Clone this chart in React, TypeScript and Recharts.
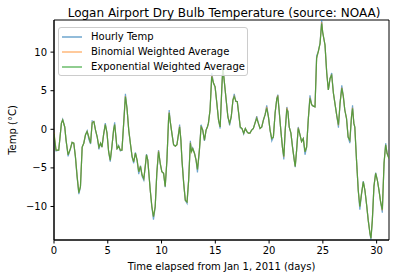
import { LineChart, Line, XAxis, YAxis, Legend, ReferenceArea, Customized } from "recharts"

// days since Jan 1, 2011
const days = [
  0.0, 0.19, 0.44, 0.69, 0.81, 1.0, 1.12, 1.31, 1.53, 1.68, 1.84, 1.99, 2.15, 2.31, 2.46, 2.62, 2.77, 2.93, 3.08, 3.24,
  3.4, 3.55, 3.71, 3.86, 4.02, 4.18, 4.33, 4.46, 4.61, 4.77, 4.93, 5.08, 5.23, 5.39, 5.54, 5.64, 5.76, 5.86, 6.01, 6.17,
  6.32, 6.48, 6.64, 6.79, 6.95, 7.1, 7.26, 7.41, 7.57, 7.73, 7.88, 8.04, 8.19, 8.35, 8.5, 8.6, 8.72, 8.82, 8.95, 9.1,
  9.25, 9.41, 9.56, 9.72, 9.88, 10.03, 10.19, 10.34, 10.5, 10.65, 10.71, 10.81, 10.96, 11.12, 11.28, 11.43, 11.59, 11.68, 11.8, 11.9,
  12.06, 12.21, 12.37, 12.52, 12.68, 12.78, 12.9, 13.06, 13.21, 13.34, 13.52, 13.68, 13.83, 13.99, 14.14, 14.27, 14.36, 14.51, 14.67, 14.83,
  14.98, 15.14, 15.3, 15.45, 15.61, 15.7, 15.82, 16.01, 16.17, 16.33, 16.48, 16.64, 16.76, 16.92, 17.04, 17.17, 17.32, 17.48, 17.64, 17.79,
  17.94, 18.07, 18.22, 18.38, 18.54, 18.69, 18.85, 19.0, 19.16, 19.32, 19.47, 19.63, 19.78, 19.94, 20.09, 20.25, 20.4, 20.56, 20.72, 20.81,
  20.93, 21.09, 21.24, 21.37, 21.5, 21.65, 21.75, 21.87, 22.03, 22.18, 22.34, 22.43, 22.56, 22.71, 22.87, 23.02, 23.18, 23.34, 23.49, 23.64,
  23.8, 23.96, 24.11, 24.27, 24.42, 24.58, 24.74, 24.89, 24.98, 25.11, 25.2, 25.36, 25.51, 25.67, 25.82, 25.98, 26.14, 26.29, 26.45, 26.6,
  26.76, 26.9, 27.04, 27.2, 27.35, 27.51, 27.66, 27.76, 27.88, 27.97, 28.13, 28.29, 28.44, 28.6, 28.76, 28.91, 29.07, 29.22, 29.38, 29.47,
  29.6, 29.75, 29.91, 30.07, 30.22, 30.37, 30.53, 30.69, 30.84, 30.97, 31.15,
]

const hourlyTemp = [
  -0.9, -2.8, -2.7, 0.8, 1.3, 0.3, -1.4, -3.5, -2.5, -1.7, -1.8, -3.6, -6.2, -8.4, -7.5, -2.3, -1.8, -0.7, -0.2, -1.3,
  -1.9, 1.1, 1.0, -0.1, -1.0, -2.6, -1.8, -2.3, -0.7, 0.8, -0.5, -2.9, -4.2, -2.2, -0.1, 0.9, -1.0, -2.6, -2.1, -2.8,
  -2.7, 0.8, 4.6, 2.7, -0.1, -1.8, -3.6, -4.4, -3.0, -4.1, -5.8, -4.7, -6.1, -6.6, -4.6, -3.2, -4.0, -5.7, -7.9, -10.1,
  -11.7, -10.1, -5.7, -2.7, -4.5, -5.5, -5.7, -7.5, -4.0, 1.2, 2.5, 1.0, -0.5, -2.0, -2.2, -2.0, -0.5, 0.6, -1.4, -4.0,
  -7.0, -9.2, -9.6, -6.6, -1.5, -2.9, -2.4, -3.1, -4.0, -5.6, -2.7, 0.6, -0.1, -1.5, -0.1, 0.4, 0.8, 2.5, 7.3, 6.0,
  5.5, 3.4, 1.2, 0.1, 5.5, 8.3, 6.4, 3.8, 1.6, 0.5, 1.6, 3.8, 4.6, 3.6, 3.6, 2.1, 0.2, 0.1, -0.6, 0.1,
  -0.3, -0.5, -0.5, -0.1, 0.1, 0.8, 1.7, 0.8, 0.1, 0.3, 1.2, 1.9, 3.1, 1.6, -0.1, -1.5, -1.0, 2.1, 4.0, 4.5,
  2.5, -0.1, -2.3, -3.9, -0.1, 2.9, 2.3, 0.3, -0.5, -2.3, -4.0, -4.9, -2.7, 0.3, -0.7, -1.6, -1.2, -3.3, -2.3, 1.2,
  4.4, 3.2, 3.0, 2.9, 9.5, 10.1, 11.2, 14.16, 12.6, 11.6, 10.9, 7.3, 5.1, 6.6, 7.3, 4.7, 3.2, 1.8, 0.2, 3.4,
  5.7, 4.3, 2.5, 1.4, -1.0, -1.8, 1.6, 3.1, 0.8, 0.3, -4.0, -7.9, -10.4, -8.3, -6.7, -7.9, -9.8, -11.8, -13.5, -14.34,
  -11.8, -7.4, -5.6, -6.6, -7.9, -9.4, -10.8, -4.4, -1.8, -3.1, -3.8,
]

const binomialAvg = [
  -0.4, -2.7, -2.7, 0.8, 1.2, 0.3, -1.4, -3.3, -2.5, -1.7, -1.8, -3.5, -6.1, -8.2, -7.4, -2.3, -1.8, -0.7, -0.3, -1.0,
  -1.8, 0.9, 1.0, -0.1, -1.0, -2.3, -1.8, -2.3, -0.7, 0.6, -0.5, -2.9, -4.0, -2.2, -0.1, 0.6, -1.0, -2.5, -2.2, -2.7,
  -2.7, 0.8, 4.3, 2.7, -0.1, -1.8, -3.5, -4.2, -3.1, -4.0, -5.5, -4.8, -5.9, -6.4, -4.6, -3.3, -4.0, -5.7, -7.9, -10.0,
  -11.3, -10.0, -5.7, -2.8, -4.4, -5.5, -5.7, -7.4, -4.0, 1.2, 2.2, 1.0, -0.5, -2.0, -2.2, -2.0, -0.5, 0.4, -1.4, -4.0,
  -7.0, -9.2, -9.4, -6.6, -1.7, -2.9, -2.5, -3.1, -4.0, -5.2, -2.7, 0.4, -0.1, -1.4, -0.1, 0.3, 0.8, 2.5, 7.0, 6.0,
  5.5, 3.4, 1.2, 0.3, 5.5, 8.0, 6.4, 3.8, 1.6, 0.8, 1.6, 3.8, 4.3, 3.6, 3.6, 2.1, 0.3, 0.1, -0.5, 0.1,
  -0.3, -0.5, -0.5, -0.1, 0.1, 0.8, 1.5, 0.8, 0.1, 0.3, 1.2, 1.9, 2.9, 1.6, -0.1, -1.2, -1.0, 2.1, 4.0, 4.4,
  2.5, -0.1, -2.3, -3.6, -0.1, 2.8, 2.3, 0.3, -0.5, -2.3, -4.0, -4.8, -2.7, 0.2, -0.7, -1.6, -1.2, -2.9, -2.3, 1.2,
  4.1, 3.2, 3.0, 2.9, 9.2, 10.1, 11.1, 13.9, 12.6, 11.6, 10.9, 7.3, 5.1, 6.6, 7.1, 4.7, 3.2, 1.8, 0.5, 3.4,
  5.4, 4.3, 2.5, 1.4, -1.0, -1.4, 1.6, 2.8, 0.8, 0.3, -4.0, -7.9, -10.0, -8.3, -6.8, -7.9, -9.8, -11.8, -13.5, -14.1,
  -11.8, -7.4, -5.7, -6.6, -7.9, -9.4, -10.5, -4.4, -2.0, -3.1, -3.8,
]

const exponentialAvg = [
  -0.6, -2.7, -2.7, 0.8, 1.2, 0.3, -1.4, -3.3, -2.5, -1.7, -1.8, -3.5, -6.1, -8.2, -7.4, -2.3, -1.8, -0.7, -0.3, -1.0,
  -1.8, 0.8, 1.0, -0.1, -1.0, -2.3, -1.8, -2.3, -0.7, 0.6, -0.5, -2.9, -4.0, -2.2, -0.1, 0.6, -1.0, -2.5, -2.2, -2.7,
  -2.7, 0.8, 4.2, 2.7, -0.1, -1.8, -3.5, -4.2, -3.1, -4.0, -5.5, -4.8, -5.9, -6.4, -4.6, -3.3, -4.0, -5.7, -7.9, -10.0,
  -11.3, -10.0, -5.7, -2.9, -4.4, -5.5, -5.7, -7.4, -4.0, 1.2, 2.1, 1.0, -0.5, -2.0, -2.2, -2.0, -0.5, 0.3, -1.4, -4.0,
  -7.0, -9.2, -9.4, -6.6, -1.8, -2.9, -2.5, -3.1, -4.0, -5.2, -2.7, 0.3, -0.1, -1.4, -0.1, 0.3, 0.8, 2.5, 6.8, 6.0,
  5.5, 3.4, 1.2, 0.3, 5.5, 7.9, 6.4, 3.8, 1.6, 0.8, 1.6, 3.8, 4.2, 3.6, 3.6, 2.1, 0.3, 0.1, -0.5, 0.1,
  -0.3, -0.5, -0.5, -0.1, 0.1, 0.8, 1.4, 0.8, 0.1, 0.3, 1.2, 1.9, 2.7, 1.6, -0.1, -1.2, -1.0, 2.1, 4.0, 4.2,
  2.5, -0.1, -2.3, -3.5, -0.1, 2.5, 2.3, 0.3, -0.5, -2.3, -4.0, -4.8, -2.7, 0.1, -0.7, -1.6, -1.2, -2.9, -2.3, 1.2,
  4.0, 3.2, 3.0, 2.9, 9.2, 10.1, 11.1, 13.7, 12.6, 11.6, 10.9, 7.3, 5.1, 6.6, 7.0, 4.7, 3.2, 1.8, 0.6, 3.4,
  5.3, 4.3, 2.5, 1.4, -1.0, -1.4, 1.6, 2.7, 0.8, 0.3, -4.0, -7.9, -10.0, -8.3, -6.8, -7.9, -9.8, -11.8, -13.5, -14.1,
  -11.8, -7.4, -5.7, -6.6, -7.9, -9.4, -10.4, -4.4, -2.0, -3.1, -3.8,
]

const xTicks = [0, 5, 10, 15, 20, 25, 30]
const yTicks = [-10, -5, 0, 5, 10]

const SERIES = [
  { key: "hourly", name: "Hourly Temp", color: "#1f77b4", opacity: 0.65 },
  { key: "binomial", name: "Binomial Weighted Average", color: "#ff7f0e", opacity: 0.55 },
  { key: "exponential", name: "Exponential Weighted Average", color: "#2ca02c", opacity: 0.7 },
]

const data = days.map((d, i) => ({
  day: d,
  hourly: hourlyTemp[i],
  binomial: binomialAvg[i],
  exponential: exponentialAvg[i],
}))

const FONT = "DejaVu Sans"
const minus = (v: number) => String(v).replace("-", "\u2212")

function renderLegend() {
  return (
    <div
      style={{
        width: 190,
        boxSizing: "border-box",
        background: "rgba(255,255,255,0.8)",
        border: "1px solid #cccccc",
        borderRadius: 3,
        padding: "1px 2px 1px 3px",
        fontFamily: FONT,
        fontSize: 10,
        color: "#000",
        whiteSpace: "nowrap",
      }}
    >
      {SERIES.map((s) => (
        <div key={s.key} style={{ display: "flex", alignItems: "center", height: 15 }}>
          <svg width={20} height={4}>
            <line x1={0} y1={2} x2={20} y2={2} stroke={s.color} strokeOpacity={s.opacity} strokeWidth={1.5} />
          </svg>
          <span style={{ marginLeft: 9 }}>{s.name}</span>
        </div>
      ))}
    </div>
  )
}

export default function App() {
  return (
    <div style={{ position: "absolute", left: 0, top: 0, background: "#fff" }}>
      <LineChart
        width={395}
        height={278}
        data={data}
        margin={{ top: 20, right: 6, left: 0, bottom: 0 }}
      >
        <Customized
          component={
            <text x={224} y={17} textAnchor="middle" fontFamily={FONT} fontSize={12} fill="#000">
              Logan Airport Dry Bulb Temperature (source: NOAA)
            </text>
          }
        />
        <XAxis
          dataKey="day"
          type="number"
          domain={[0, 31.15]}
          ticks={xTicks}
          height={38}
          tickSize={3.5}
          tickMargin={3.5}
          tickLine={{ stroke: "#000" }}
          axisLine={{ stroke: "#000" }}
          tick={{ fontFamily: FONT, fontSize: 10, fill: "#000" }}
          allowDataOverflow
          label={{
            value: "Time elapsed from Jan 1, 2011 (days)",
            position: "insideBottom",
            offset: 8,
            style: { fontFamily: FONT, fontSize: 10, fill: "#000" },
          }}
        />
        <YAxis
          type="number"
          domain={[-14.34, 14.16]}
          ticks={yTicks}
          width={54}
          tickSize={3.5}
          tickMargin={3.5}
          tickLine={{ stroke: "#000" }}
          axisLine={{ stroke: "#000" }}
          tick={{ fontFamily: FONT, fontSize: 10, fill: "#000" }}
          tickFormatter={minus}
          allowDataOverflow
          label={{
            value: "Temp (\u00b0C)",
            angle: -90,
            position: "insideLeft",
            offset: 12,
            style: { fontFamily: FONT, fontSize: 10, fill: "#000", textAnchor: "middle" },
          }}
        />
        <ReferenceArea
          x1={0}
          x2={31.15}
          y1={-14.34}
          y2={14.16}
          fill="none"
          stroke="#000"
          strokeWidth={1}
          ifOverflow="visible"
        />
        {SERIES.map((s) => (
          <Line
            key={s.key}
            name={s.name}
            dataKey={s.key}
            stroke={s.color}
            strokeOpacity={s.opacity}
            strokeWidth={1.2}
            dot={false}
            isAnimationActive={false}
          />
        ))}
        <Legend
          layout="vertical"
          align="center"
          verticalAlign="middle"
          content={renderLegend}
          wrapperStyle={{ top: 27, left: 58, width: 190 }}
        />
      </LineChart>
    </div>
  )
}
